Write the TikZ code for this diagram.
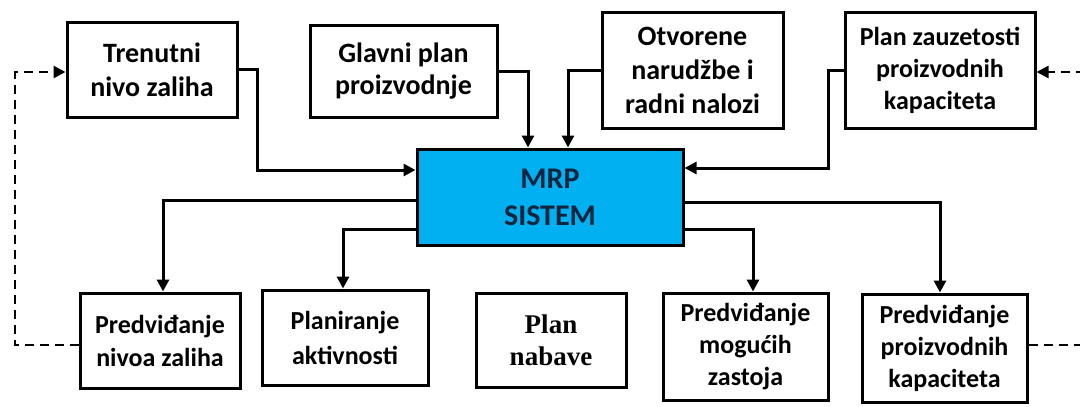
\documentclass[tikz,border=0pt]{standalone}
\usepackage{fontspec}
\setmainfont{Carlito}
\newfontfamily\timesfont{Liberation Serif}
\usetikzlibrary{arrows.meta,calc}

\definecolor{mrpplava}{HTML}{00B0F0}
\definecolor{mrptekst}{HTML}{10243E}

\begin{document}
\begin{tikzpicture}[x=1pt,y=-1pt,
		tok/.style={draw=black,line width=3pt,-{Triangle[length=12pt,width=12pt]}},
		povrat/.style={draw=black,line width=2.6pt,dash pattern=on 9pt off 6pt}]
	\useasboundingbox (0,0) rectangle (1080,407);
	
	\begin{scope}[every node/.style={draw,line width=3pt,fill=white,align=center,inner sep=0pt,
			font=\bfseries\fontsize{28}{34}\selectfont}]
		% ulazi
		\node[minimum width=170pt,minimum height=95pt] (tren) at (152,69.5) {Trenutni\\nivo zaliha};
		\node[minimum width=187pt,minimum height=92pt,font=\bfseries\fontsize{28}{32}\selectfont] (glavni) at (403.5,71) {Glavni plan\\proizvodnje};
		\node[minimum width=181pt,minimum height=116pt] (otv) at (692.5,70) {Otvorene\\narudžbe i\\radni nalozi};
		\node[minimum width=190pt,minimum height=116pt,font=\bfseries\fontsize{26}{32}\selectfont] (zauz) at (940,70) {Plan zauzetosti\\proizvodnih\\kapaciteta};
		% sistem
		\node[minimum width=266pt,minimum height=96pt,fill=mrpplava,text=mrptekst,
			font=\bfseries\fontsize{30}{37}\selectfont] (mrp) at (550,197) {MRP\\SISTEM};
		% izlazi
		\node[minimum width=160pt,minimum height=95pt,font=\bfseries\fontsize{26}{33}\selectfont] (pnz) at (160,340.5) {Predviđanje\\nivoa zaliha};
		\node[minimum width=166pt,minimum height=95pt,font=\bfseries\fontsize{26}{35}\selectfont] (plan) at (345,337.5) {Planiranje\\aktivnosti};
		\node[minimum width=150pt,minimum height=94pt,font=\timesfont\bfseries\fontsize{27}{32}\selectfont] (nab) at (551,340) {Plan\\nabave};
		\node[minimum width=165pt,minimum height=107pt,font=\bfseries\fontsize{26}{32}\selectfont] (moz) at (745.5,346.5) {Predviđanje\\mogućih\\zastoja};
		\node[minimum width=165pt,minimum height=108pt,font=\bfseries\fontsize{26}{32}\selectfont] (ppk) at (944.5,348) {Predviđanje\\proizvodnih\\kapaciteta};
	\end{scope}
	
	\coordinate (desnoGore) at (1085,72);
	\coordinate (desnoDole) at (1085,345);
	
	% tokovi prema sistemu
	\draw[tok] (tren.east) -- (257,0 |- tren.east) |- (mrp.west |- 0,170);
	\draw[tok] (glavni.east) -| (528,0 |- mrp.north);
	\draw[tok] (otv.west) -| (568,0 |- mrp.north);
	\draw[tok] (zauz.west) -- (828,0 |- zauz.west) |- (mrp.east |- 0,168);
	
	% tokovi iz sistema
	\draw[tok] (mrp.west |- 0,200) -| (163,0 |- pnz.north);
	\draw[tok] (mrp.west |- 0,229) -| (343,0 |- plan.north);
	\draw[tok] (mrp.east |- 0,229) -| (753,0 |- moz.north);
	\draw[tok] (mrp.east |- 0,202) -| (940,0 |- ppk.north);
	
	% povratne veze
	\draw[povrat,-{Triangle[length=12pt,width=12pt]}] (pnz.west |- 0,345) -- (15,345) |- (tren.west |- 0,72);
	\draw[povrat,-{Triangle[length=12pt,width=12pt]}] (desnoGore) -- (zauz.east |- desnoGore);
	\draw[povrat] (ppk.east |- desnoDole) -- (desnoDole);
\end{tikzpicture}
\end{document}
